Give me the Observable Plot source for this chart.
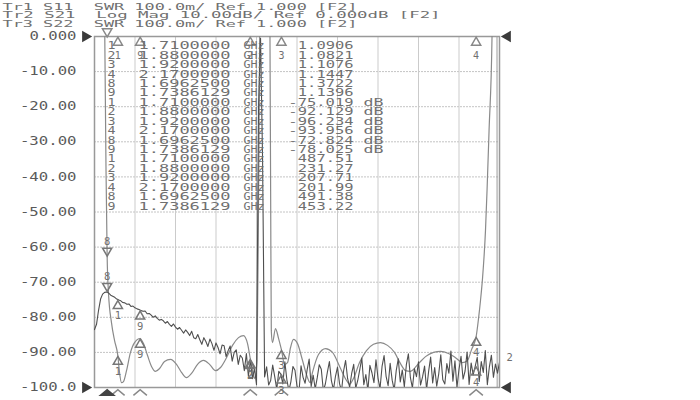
<!DOCTYPE html>
<html><head><meta charset="utf-8">
<script src="https://cdn.jsdelivr.net/npm/d3@7"></script>
<script src="https://cdn.jsdelivr.net/npm/@observablehq/plot@0.6"></script>
<style>body{margin:0;background:#fff;}</style>
</head><body><div id="chart"></div>
<script>
// ---------- data ----------
const headerLines = [
  "Tr1 S11  SWR 100.0m/ Ref 1.000 [F2]",
  "Tr2 S21  Log Mag 10.00dB/ Ref 0.000dB [F2]",
  "Tr3 S22  SWR 100.0m/ Ref 1.000 [F2]"
];
const yTicks = [0, -10, -20, -30, -40, -50, -60, -70, -80, -90, -100];
const yLabels = ["0.000", "-10.00", "-20.00", "-30.00", "-40.00", "-50.00", "-60.00", "-70.00", "-80.00", "-90.00", "-100.0"];
const yGrid = [-10, -20, -30, -40, -50, -60, -70, -80, -90];
const xDomain = [1.68, 2.20];
const xGrid = [1.732, 1.784, 1.836, 1.888, 1.940, 1.992, 2.044, 2.096, 2.148];

const markerIds = ["1", "2", "3", "4", "8", "9"];
const markerFreqs = [1.71, 1.88, 1.92, 2.17, 1.69625, 1.7386129];
const markerFreqLabels = ["1.7100000", "1.8800000", "1.9200000", "2.1700000", "1.6962500", "1.7386129"];
const tr1Values = [1.0906, 1.0821, 1.1076, 1.1447, 1.3722, 1.1396];
const tr2Values = [-75.019, -92.129, -96.234, -93.956, -72.824, -78.025];
const tr3Values = [487.51, 231.27, 207.71, 201.99, 491.38, 453.22];
const activeMarker = "8";

// Tr1 S11 SWR trace [GHz, SWR]
const tr1Trace = [[1.6916,2.6],[1.6932,2.0],[1.6948,1.618],[1.69625,1.3722],[1.6980,1.268],[1.7018,1.185],[1.7057,1.134],[1.7100,1.0906],[1.7121,1.043],[1.7147,1.014],[1.7172,1.017],[1.7211,1.048],[1.7262,1.100],[1.7314,1.128],[1.7386,1.1396],[1.7429,1.125],[1.7481,1.091],[1.7532,1.060],[1.7583,1.046],[1.7635,1.054],[1.7699,1.074],[1.7776,1.080],[1.7853,1.066],[1.7917,1.043],[1.7981,1.028],[1.8046,1.040],[1.8123,1.066],[1.8200,1.077],[1.8277,1.066],[1.8354,1.048],[1.8418,1.057],[1.8495,1.085],[1.8572,1.120],[1.8649,1.142],[1.8713,1.148],[1.8765,1.125],[1.8800,1.0821],[1.8829,1.048],[1.8854,1.026],[1.8887,1.077],[1.8906,1.533],[1.8921,2.0],[1.8931,2.6],[1.9040,2.6],[1.9053,2.0],[1.9062,1.533],[1.9070,1.162],[1.9085,1.128],[1.9124,1.168],[1.9163,1.140],[1.9200,1.1076],[1.9240,1.066],[1.9278,1.071],[1.9317,1.114],[1.9355,1.137],[1.9407,1.125],[1.9471,1.077],[1.9535,1.028],[1.9567,1.014],[1.9599,1.043],[1.9676,1.094],[1.9766,1.111],[1.9856,1.100],[1.9959,1.054],[2.0036,1.020],[2.0074,1.009],[2.0126,1.026],[2.0203,1.071],[2.0292,1.105],[2.0382,1.123],[2.0472,1.128],[2.0562,1.120],[2.0652,1.100],[2.0729,1.068],[2.0793,1.048],[2.0857,1.046],[2.0960,1.068],[2.1050,1.088],[2.1153,1.100],[2.1243,1.103],[2.1345,1.097],[2.1435,1.085],[2.1525,1.071],[2.1589,1.077],[2.1641,1.108],[2.1700,1.1447],[2.1731,1.197],[2.1756,1.248],[2.1782,1.311],[2.1820,1.447],[2.1840,1.561],[2.1866,1.732],[2.1904,2.0],[2.1923,2.6]];

// Tr2 S21 log mag, sweep points
const s21Start = 1.680, s21Step = 0.0026;
const s21Db = [
 -83.5,-82.0,-78.0,-74.8,-73.4,-72.9,-72.8,-73.1,-73.7,-74.0,
 -74.3,-74.8,-75.1,-75.3,-75.8,-75.9,-76.3,-76.2,-76.9,-76.8,
 -77.3,-77.6,-77.8,-78.1,-78.3,-78.2,-79.0,-78.9,-79.4,-80.0,
 -79.6,-80.3,-80.8,-80.6,-81.0,-81.7,-81.2,-82.0,-82.6,-81.9,
 -82.8,-83.4,-82.9,-83.7,-84.5,-83.6,-84.3,-85.2,-84.0,-85.8,
 -86.1,-84.9,-86.4,-87.7,-85.8,-86.9,-88.3,-86.2,-87.5,-89.4,
 -87.3,-88.6,-90.4,-87.9,-88.1,-91.2,-89.5,-88.2,-92.5,-90.0,
 -89.3,-93.4,-90.8,-91.6,-95.2,-90.3,-96.8,-92.1,-97.5,-94.6,
 -99.2,-20.0,-0.5,-35.0,-97.0,-94.1,-99.3,-98.0,-93.6,-96.9,
 -100.5,-95.4,-96.2,-99.0,-92.7,-97.8,-100.9,-98.3,-94.0,-95.1,
 -99.6,-101.0,-93.8,-97.1,-98.8,-95.0,-91.9,-99.7,-96.5,-100.4,
 -97.2,-93.5,-94.8,-100.9,-99.0,-95.6,-92.6,-98.1,-100.6,-96.8,
 -94.2,-98.9,-101.0,-95.3,-92.3,-97.5,-99.9,-96.0,-93.4,-100.2,
 -98.0,-94.9,-91.6,-99.2,-96.3,-100.8,-93.7,-95.8,-98.6,-92.1,
 -97.3,-100.3,-94.0,-90.9,-96.8,-99.5,-93.1,-97.9,-100.7,-95.2,
 -91.8,-98.4,-95.0,-99.8,-93.5,-90.4,-97.2,-100.1,-94.6,-96.9,
 -92.7,-99.3,-97.0,-93.9,-100.5,-95.4,-91.3,-98.7,-94.3,-99.6,
 -96.1,-90.7,-97.8,-99.0,-93.2,-95.9,-89.6,-98.2,-92.4,-100.0,
 -94.8,-91.1,-97.6,-95.3,-89.9,-99.1,-93.0,-96.4,-93.96,-91.4,
 -98.3,-92.6,-95.7,-89.5,-99.2,-94.1,-90.8,-97.1,-93.3,-95.9,
 -92.8
];

// Tr3 S22 SWR trace (off scale except at right edge) [GHz, SWR]
const tr3Trace = [[1.680,3.0],[2.1966,3.0],[2.1970,0.99],[2.200,0.99]];

// ---------- helpers ----------
const swrToDb = s => -100 + (s - 1) * 100;   // SWR 100.0m/div, ref 1.000 at bottom
const s21Points = s21Db.map((v, i) => [s21Start + i * s21Step, v]);
const markers = markerIds.map((id, i) => ({
  id, f: markerFreqs[i], tr1: swrToDb(tr1Values[i]), tr2: tr2Values[i]
}));
const act = markers.filter(m => m.id === activeMarker);
const pas = markers.filter(m => m.id !== activeMarker);

const listNums = [...markerIds, ...markerIds, ...markerIds].join("\n");
const listFreqs = [...markerFreqLabels, ...markerFreqLabels, ...markerFreqLabels].join("\n");
const listGHz = [...markerIds, ...markerIds, ...markerIds].map(() => "GHz").join("\n");
const listVals = [
  ...tr1Values.map(v => v.toFixed(4)),
  ...tr2Values.map(v => v.toFixed(3)),
  ...tr3Values.map(v => v.toFixed(2))
].join("\n");
const listUnits = [...markerIds.map(() => ""), ...markerIds.map(() => "dB")].join("\n");

const chevron = {draw(ctx, size) { const s = Math.sqrt(size); ctx.moveTo(-s * 0.95, s * 0.4); ctx.lineTo(0, -s * 0.4); ctx.lineTo(s * 0.95, s * 0.4); }};
const chevronFilled = {draw(ctx, size) { const s = Math.sqrt(size); ctx.moveTo(-s * 0.95, s * 0.4); ctx.lineTo(0, -s * 0.4); ctx.lineTo(s * 0.95, s * 0.4); ctx.closePath(); }};

const FONT = "DejaVu Sans Mono";
const TXT = "#707070";
const listFS = 10.5, listLH = 9.44 / 10.5;

const chart = Plot.plot({
  width: 700, height: 400,
  marginLeft: 94, marginRight: 201, marginTop: 36, marginBottom: 13,
  x: {domain: xDomain, axis: null},
  y: {domain: [-100, 0], axis: null},
  style: {background: "#fff", fontFamily: FONT},
  marks: [
    Plot.gridY(yGrid, {stroke: "#c4c4c4", strokeOpacity: 1, strokeDasharray: "2,1"}),
    Plot.gridX(xGrid, {stroke: "#cbcbcb", strokeOpacity: 1}),
    Plot.frame({stroke: "#999", strokeWidth: 1.5}),
    // traces
    Plot.line(tr3Trace, {x: d => d[0], y: d => swrToDb(d[1]), stroke: "#9a9a9a", strokeWidth: 1, clip: true}),
    Plot.line(tr1Trace, {x: d => d[0], y: d => swrToDb(d[1]), stroke: "#8a8a8a", strokeWidth: 1.2, clip: true, curve: "monotone-x"}),
    Plot.line(s21Points, {x: d => d[0], y: d => d[1], stroke: "#4f4f4f", strokeWidth: 1.1, clip: true}),
    // reference level triangles
    Plot.dot([0, -100], {y: d => d, frameAnchor: "left", dx: -9, symbol: "triangle", rotate: 90, r: 4.3, fill: "#3a3a3a", stroke: "none"}),
    Plot.dot([0, -100], {y: d => d, frameAnchor: "right", dx: 8, symbol: "triangle", rotate: -90, r: 4.3, fill: "#3a3a3a", stroke: "none"}),
    // marker indicators on x edges
    Plot.dot(pas, {x: "f", frameAnchor: "bottom", dy: 5, symbol: chevron, r: 4, stroke: "#888", fill: "none"}),
    Plot.dot(act, {x: "f", frameAnchor: "bottom", dy: 5, symbol: chevronFilled, r: 4, stroke: "#444", fill: "#444"}),
    Plot.dot(act, {x: "f", frameAnchor: "top", dy: -5, symbol: "triangle", rotate: 180, r: 3.5, stroke: "#888", fill: "#fff"}),
    // Tr3 markers, off scale, pinned at top
    Plot.dot(pas, {x: "f", frameAnchor: "top", dy: 6, symbol: "triangle", r: 3.4, stroke: "#888", fill: "none"}),
    // Tr1 / Tr2 markers
    Plot.dot(pas, {x: "f", y: "tr1", dy: 6, symbol: "triangle", r: 3.4, stroke: "#777", fill: "none"}),
    Plot.dot(pas, {x: "f", y: "tr2", dy: 6, symbol: "triangle", r: 3.4, stroke: "#777", fill: "none"}),
    Plot.dot(act, {x: "f", y: "tr1", dy: -6, symbol: "triangle", rotate: 180, r: 3.4, stroke: "#777", fill: "none"}),
    Plot.dot(act, {x: "f", y: "tr2", dy: -6, symbol: "triangle", rotate: 180, r: 3.4, stroke: "#777", fill: "none"}),

    // ---- text marks (order matters for fitting) ----
    Plot.text([headerLines.join("\n")], {frameAnchor: "top-left", dx: -92, dy: -33, textAnchor: "start", lineAnchor: "top", lineHeight: 0.92, fontSize: 9.5, fill: TXT, fontFamily: FONT}),
    Plot.text(yTicks, {y: d => d, text: (d, i) => yLabels[i], frameAnchor: "left", dx: -18, textAnchor: "end", fontSize: 11.5, fill: "#5a5a5a", fontFamily: FONT}),
    Plot.text([listNums], {frameAnchor: "top-left", dx: 13, dy: 6, textAnchor: "start", lineAnchor: "top", lineHeight: listLH, fontSize: listFS, fill: TXT, fontFamily: FONT}),
    Plot.text([listFreqs], {frameAnchor: "top-left", dx: 44, dy: 6, textAnchor: "start", lineAnchor: "top", lineHeight: listLH, fontSize: listFS, fill: TXT, fontFamily: FONT}),
    Plot.text([listGHz], {frameAnchor: "top-left", dx: 149, dy: 6, textAnchor: "start", lineAnchor: "top", lineHeight: listLH, fontSize: listFS, fill: TXT, fontFamily: FONT}),
    Plot.text([listVals], {frameAnchor: "top-left", dx: 259, dy: 6, textAnchor: "end", lineAnchor: "top", lineHeight: listLH, fontSize: listFS, fill: TXT, fontFamily: FONT}),
    Plot.text([listUnits], {frameAnchor: "top-left", dx: 269, dy: 6, textAnchor: "start", lineAnchor: "top", lineHeight: listLH, fontSize: listFS, fill: TXT, fontFamily: FONT}),
    // marker labels
    Plot.text(pas, {x: "f", frameAnchor: "top", dy: 15, text: "id", fontSize: 10, fill: TXT, fontFamily: FONT}),
    Plot.text(pas, {x: "f", y: "tr1", dy: 16, text: "id", fontSize: 10.5, fill: TXT, fontFamily: FONT}),
    Plot.text(pas, {x: "f", y: "tr2", dy: 16, text: "id", fontSize: 10.5, fill: TXT, fontFamily: FONT}),
    Plot.text(act, {x: "f", y: "tr1", dy: -15, text: "id", fontSize: 10.5, fill: TXT, fontFamily: FONT}),
    Plot.text(act, {x: "f", y: "tr2", dy: -15, text: "id", fontSize: 10.5, fill: TXT, fontFamily: FONT}),
    Plot.text(["2"], {frameAnchor: "right", y: -91.5, dx: 7, textAnchor: "start", fontSize: 10.5, fill: TXT, fontFamily: FONT})
  ]
});

document.getElementById("chart").appendChild(chart);

// stretch glyphs horizontally to mimic the analyzer's wide screen font
const fits = [
  s => s.startsWith("Tr2") ? 438 : 355,
  s => s.length * 9.6 - 1,
  s => 8,
  s => 92,
  s => 21,
  s => s.length * 9.45 - 1,
  s => 20
];
const groups = chart.querySelectorAll('g[aria-label="text"]');
groups.forEach((g, k) => {
  const fn = fits[k];
  if (!fn) return;
  g.querySelectorAll("text").forEach(t => {
    const spans = t.querySelectorAll("tspan");
    const targets = spans.length ? Array.from(spans) : [t];
    targets.forEach(el => {
      const s = el.textContent;
      if (!s) return;
      el.setAttribute("textLength", fn(s));
      el.setAttribute("lengthAdjust", "spacingAndGlyphs");
    });
  });
});
</script>
</body></html>
